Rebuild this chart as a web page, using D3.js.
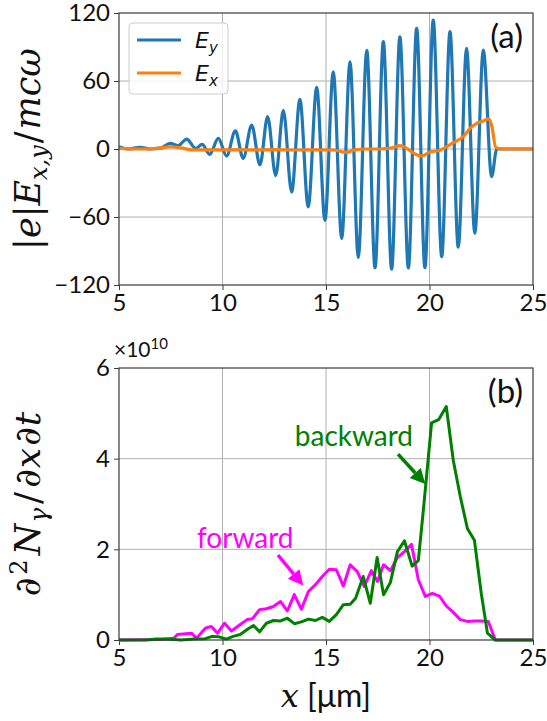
<!DOCTYPE html>
<html>
<head>
<meta charset="utf-8">
<script src="https://cdn.jsdelivr.net/npm/d3@7"></script>
<style>
  html, body { margin: 0; padding: 0; background: #fff; }
  svg { display: block; }
  .tick text { font-family: Lato, "Open Sans", sans-serif; font-size: 24px; fill: #111; }
</style>
</head>
<body>
<svg id="fig" width="547" height="721"></svg>
<script>
// ---- panel (a): laser field components (extrema of the oscillation, x in µm)
const eyX = [5.0, 5.48, 6.01, 6.5, 7.06, 7.46, 7.86, 8.27, 8.70, 9.02, 9.38, 9.80, 10.20, 10.62, 11.00, 11.41,
             11.81, 12.18, 12.57, 12.94, 13.34, 13.74, 14.14, 14.55, 14.95, 15.35, 15.76, 16.16, 16.56,
             16.97, 17.37, 17.77, 18.17, 18.57, 18.98, 19.38, 19.78, 20.18, 20.59, 20.99, 21.39, 21.79,
             22.19, 22.60, 23.00, 23.25, 23.6, 25.0];
const eyV = [2, 0, 1.5, 0, 1, 5, 3, 8.8, 0.6, 4.1, -4.7, 9.4, -6.2, 16, -8.2, 21,
             -14, 28.5, -23.5, 34, -38, 43.8, -51, 54.4, -63, 68, -79, 77, -95.6,
             87, -104.7, 94.7, -106, 99, -105, 106.5, -104.7, 113.8, -95, 103.5, -86.7, 88.8,
             -74.4, 87.3, -24.4, 0, 0, 0];

const exX = [5, 6, 7, 7.46, 8, 8.57, 9.5, 10.5, 11.5, 12.5, 13.7, 14.5, 15.35, 16.0, 16.32, 16.97, 17.61,
             18.2, 18.57, 18.90, 19.30, 19.62, 20.02, 20.51, 20.83, 21.15, 21.63, 21.96, 22.28, 22.60,
             22.84, 23.00, 23.2, 23.5, 25];
const exV = [0.5, 0, 0.8, 2, 1, -0.9, -0.8, -0.8, -0.8, -0.6, -0.9, -0.7, -0.9, -3, -1, 0, 0,
             1, 3, 0.5, -4.4, -6.2, -2.6, -1, 2, 5.6, 10.9, 18.2, 22.6, 24.7,
             26.5, 21, 1.5, 0, 0];

// ---- panel (b): photon emission rate (units of 1e10)
const fwdX = [5, 7.1, 7.65, 7.82, 8.5, 8.75, 9.17, 9.46, 9.76, 10.1, 10.43, 10.86, 11.19, 11.45, 11.79,
              12.12, 12.46, 12.8, 13.13, 13.47, 13.81, 14.15, 14.49, 14.82, 15.16, 15.5, 15.84, 16.17,
              16.51, 16.85, 17.19, 17.49, 17.78, 18.11, 18.45, 18.79, 19.13, 19.46, 19.8, 20.14, 20.48,
              20.81, 21.15, 21.49, 21.83, 22.17, 22.5, 22.84, 23.18, 25];
const fwdV = [0, 0.01, 0.04, 0.12, 0.15, 0.04, 0.26, 0.30, 0.15, 0.37, 0.2, 0.34, 0.45, 0.47, 0.67,
              0.69, 0.74, 0.85, 0.64, 1.0, 0.68, 1.07, 1.22, 1.40, 1.56, 1.55, 1.19, 1.66,
              1.51, 1.18, 1.53, 1.29, 1.66, 1.53, 1.82, 1.95, 2.11, 1.33, 0.96, 1.03, 0.97,
              0.75, 0.61, 0.45, 0.41, 0.42, 0.42, 0.41, 0, 0];

const bwdX = [5, 6.3, 6.8, 7.3, 8, 8.66, 9.17, 9.5, 9.84, 10.18, 10.52, 10.86, 11.19, 11.5, 11.79, 12.12,
              12.46, 12.8, 13.13, 13.47, 13.81, 14.15, 14.49, 14.82, 15.16, 15.5, 15.84, 16.17, 16.43,
              16.8, 17.14, 17.47, 17.78, 18.11, 18.45, 18.79, 19.16, 19.46, 19.72, 20.1, 20.44, 20.81,
              21.15, 21.49, 21.83, 22.17, 22.5, 22.8, 23.18, 25];
const bwdV = [0, 0, 0.02, 0.02, 0, 0.02, 0.03, 0.08, 0.07, 0.02, 0.08, 0.12, 0.23, 0.32, 0.18, 0.37,
              0.43, 0.42, 0.48, 0.36, 0.40, 0.46, 0.43, 0.50, 0.41, 0.56, 0.78, 0.79, 0.92,
              1.40, 0.81, 1.82, 1.0, 1.27, 1.95, 2.19, 1.63, 1.75, 2.94, 4.79, 4.86, 5.15,
              3.96, 3.16, 2.46, 2.2, 1.03, 0.15, 0, 0];

const xTicks = [5, 10, 15, 20, 25];
const yTicksA = [-120, -60, 0, 60, 120];
const yTicksB = [0, 2, 4, 6];

// ---- styling
const C = {
  ey: "#1f77b4", ex: "#ff7f0e", fwd: "#ff00ff", bwd: "#008000",
  spine: "#3a3a3a", grid: "#b0b0b0"
};
const SERIF = "'DejaVu Serif', serif";
const SANS = "Lato, 'Open Sans', sans-serif";
const MATHSANS = "'DejaVu Sans', sans-serif";

const svg = d3.select("#fig");
const L = 119, R = 533;
const panelA = { top: 13, bottom: 285 };
const panelB = { top: 368, bottom: 640 };

const x = d3.scaleLinear().domain([5, 25]).range([L, R]);
const yA = d3.scaleLinear().domain([-120, 120]).range([panelA.bottom, panelA.top]);
const yB = d3.scaleLinear().domain([0, 6]).range([panelB.bottom, panelB.top]);

function frame(y, yTicks, p) {
  const g = svg.append("g");
  // grid
  g.append("g").selectAll("line").data(xTicks.slice(1, -1)).join("line")
    .attr("x1", d => x(d)).attr("x2", d => x(d))
    .attr("y1", p.top).attr("y2", p.bottom)
    .attr("stroke", C.grid).attr("stroke-width", 1);
  g.append("g").selectAll("line").data(yTicks.slice(1, -1)).join("line")
    .attr("x1", L).attr("x2", R)
    .attr("y1", d => y(d)).attr("y2", d => y(d))
    .attr("stroke", C.grid).attr("stroke-width", 1);
  // axes
  const ax = g.append("g").attr("transform", `translate(0,${p.bottom})`)
    .call(d3.axisBottom(x).tickValues(xTicks).tickFormat(d3.format("d")).tickSize(5).tickPadding(4));
  const ay = g.append("g").attr("transform", `translate(${L},0)`)
    .call(d3.axisLeft(y).tickValues(yTicks).tickFormat(d3.format("d")).tickSize(5).tickPadding(4));
  [ax, ay].forEach(a => {
    a.select(".domain").remove();
    a.selectAll(".tick line").attr("stroke", C.spine);
  });
  return g;
}
function spines(p) {
  svg.append("rect").attr("x", L).attr("y", p.top)
    .attr("width", R - L).attr("height", p.bottom - p.top)
    .attr("fill", "none").attr("stroke", C.spine).attr("stroke-width", 1.2);
}

// rich text from segments: {t, font, italic, size, dy}
function rich(sel, segs) {
  segs.forEach(s => {
    const ts = sel.append("tspan").text(s.t)
      .attr("font-family", s.font || SERIF)
      .attr("font-style", s.italic ? "italic" : "normal");
    if (s.size) ts.attr("font-size", s.size);
    if (s.dy) ts.attr("dy", s.dy);
    if (s.dx) ts.attr("dx", s.dx);
  });
  return sel;
}

// ---------------- panel (a)
frame(yA, yTicksA, panelA);

const lineA = d3.line().x(d => x(d[0])).y(d => yA(d[1])).curve(d3.curveMonotoneX);
svg.append("path").datum(d3.zip(eyX, eyV)).attr("d", lineA)
  .attr("fill", "none").attr("stroke", C.ey).attr("stroke-width", 3.2).attr("stroke-linejoin", "round");
svg.append("path").datum(d3.zip(exX, exV)).attr("d", lineA)
  .attr("fill", "none").attr("stroke", C.ex).attr("stroke-width", 3.2).attr("stroke-linejoin", "round");
spines(panelA);

// legend
const lg = svg.append("g");
lg.append("rect").attr("x", 129).attr("y", 23).attr("width", 99).attr("height", 71).attr("rx", 4)
  .attr("fill", "#fff").attr("fill-opacity", 0.8).attr("stroke", "#cccccc").attr("stroke-width", 1);
[{ c: C.ey, sub: "y", y: 40 }, { c: C.ex, sub: "x", y: 73 }].forEach(e => {
  lg.append("line").attr("x1", 137).attr("x2", 181).attr("y1", e.y).attr("y2", e.y)
    .attr("stroke", e.c).attr("stroke-width", 3.2);
  const t = lg.append("text").attr("x", 195).attr("y", e.y + 8).attr("font-size", 22).attr("fill", "#111");
  rich(t, [{ t: "E", font: MATHSANS, italic: true },
           { t: e.sub, font: MATHSANS, italic: true, size: 15, dy: 5 }]);
});

svg.append("text").attr("x", 523).attr("y", 48).attr("text-anchor", "end")
  .attr("font-family", SANS).attr("font-size", 33).attr("fill", "#111").text("(a)");

// y label (a)
const yla = svg.append("text")
  .attr("transform", `translate(40,${(panelA.top + panelA.bottom) / 2}) rotate(-90)`)
  .attr("text-anchor", "middle").attr("font-size", 35).attr("fill", "#111");
rich(yla, [
  { t: "|", italic: false }, { t: "e", italic: true }, { t: "|", italic: false },
  { t: "E", italic: true },
  { t: "x,y", italic: true, size: 24, dy: 7 },
  { t: "/", italic: false, dy: -7, dx: 2 }, { t: "mcω", italic: true, dx: 2 }
]);

// ---------------- panel (b)
frame(yB, yTicksB, panelB);
const lineB = d3.line().x(d => x(d[0])).y(d => yB(d[1]));
svg.append("path").datum(d3.zip(fwdX, fwdV)).attr("d", lineB)
  .attr("fill", "none").attr("stroke", C.fwd).attr("stroke-width", 3).attr("stroke-linejoin", "round");
svg.append("path").datum(d3.zip(bwdX, bwdV)).attr("d", lineB)
  .attr("fill", "none").attr("stroke", C.bwd).attr("stroke-width", 3).attr("stroke-linejoin", "round");
spines(panelB);

// scale multiplier
const mult = svg.append("text").attr("x", 114).attr("y", 357).attr("fill", "#111").attr("font-size", 21);
rich(mult, [{ t: "×10", font: SANS }, { t: "10", font: SANS, size: 15, dy: -8 }]);

svg.append("text").attr("x", 523).attr("y", 403).attr("text-anchor", "end")
  .attr("font-family", SANS).attr("font-size", 33).attr("fill", "#111").text("(b)");

// annotations with arrows (data coordinates)
const notes = [
  { label: "forward", color: C.fwd, tx: 11.1, ty: 2.03, ax0: 12.68, ay0: 1.875, ax1: 13.9, ay1: 1.2 },
  { label: "backward", color: C.bwd, tx: 16.35, ty: 4.28, ax0: 18.48, ay0: 4.10, ax1: 19.8, ay1: 3.44 }
];
notes.forEach(n => {
  svg.append("text").attr("x", x(n.tx)).attr("y", yB(n.ty)).attr("text-anchor", "middle")
    .attr("font-family", SANS).attr("font-size", 28).attr("fill", n.color).text(n.label);
  const x0 = x(n.ax0), y0 = yB(n.ay0), x1 = x(n.ax1), y1 = yB(n.ay1);
  const ang = Math.atan2(y1 - y0, x1 - x0);
  const hl = 15, hw = 7.5;
  const bx = x1 - hl * Math.cos(ang), by = y1 - hl * Math.sin(ang);
  svg.append("line").attr("x1", x0).attr("y1", y0).attr("x2", bx).attr("y2", by)
    .attr("stroke", n.color).attr("stroke-width", 3.5);
  const px = -Math.sin(ang), py = Math.cos(ang);
  svg.append("path")
    .attr("d", `M${x1},${y1}L${bx + hw * px},${by + hw * py}L${bx - hw * px},${by - hw * py}Z`)
    .attr("fill", n.color);
});

// y label (b)
const ylb = svg.append("text")
  .attr("transform", `translate(40,${(panelB.top + panelB.bottom) / 2}) rotate(-90)`)
  .attr("text-anchor", "middle").attr("font-size", 36).attr("fill", "#111");
rich(ylb, [
  { t: "∂", italic: true }, { t: "2", italic: false, size: 24, dy: -13, dx: 3 },
  { t: "N", italic: true, dy: 13, dx: 4 }, { t: "γ", italic: true, size: 25, dy: 7, dx: 1 },
  { t: "/", italic: false, dy: -7, dx: 4 }, { t: "∂", italic: true, dx: 4 },
  { t: "x", italic: true, dx: 1 }, { t: "∂", italic: true, dx: 2 }, { t: "t", italic: true, dx: 1 }
]);

// x label
const xl = svg.append("text").attr("x", (L + R) / 2).attr("y", 707)
  .attr("text-anchor", "middle").attr("font-size", 32).attr("fill", "#111");
rich(xl, [{ t: "x", italic: true }, { t: " [μm]", font: SANS }]);
</script>
</body>
</html>
